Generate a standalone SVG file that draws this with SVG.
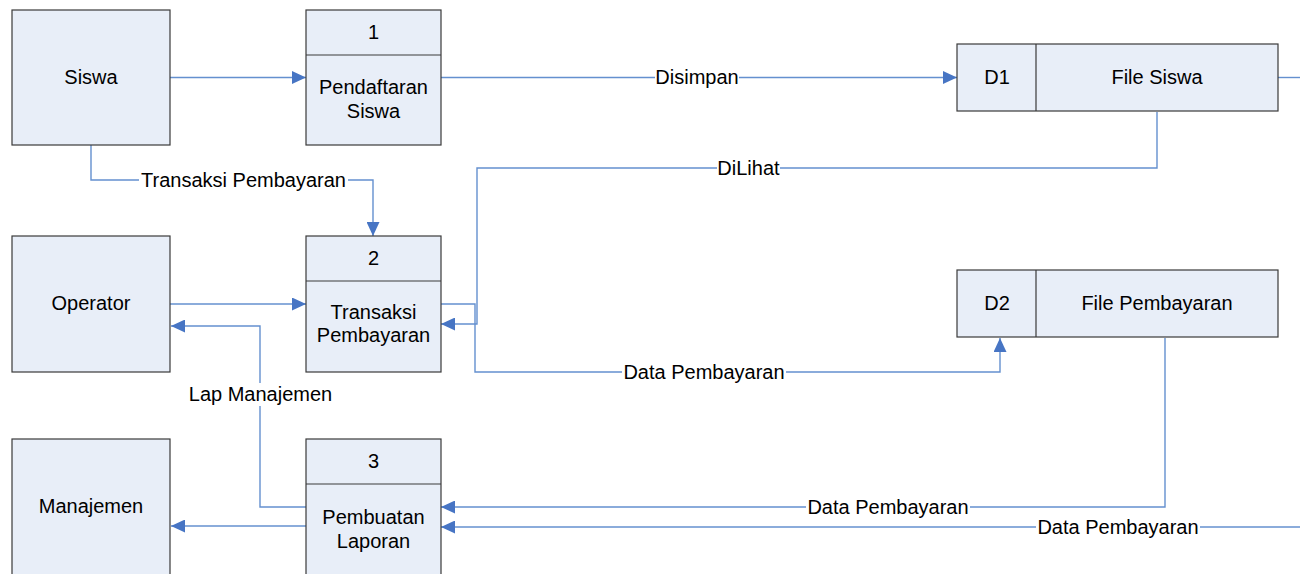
<svg xmlns="http://www.w3.org/2000/svg" width="1300" height="574" viewBox="0 0 1300 574">
  <defs>
    <marker id="arrow" viewBox="0 0 14 13" refX="14" refY="6.5" markerWidth="14" markerHeight="13" markerUnits="userSpaceOnUse" orient="auto">
      <path d="M0,0 L14,6.5 L0,13 Z" fill="#4775C4"/>
    </marker>
    <style>
      .box { fill: #E8EEF8; stroke: #3A3A3A; stroke-width: 1.2; }
      .div { stroke: #3A3A3A; stroke-width: 1.2; fill: none; }
      .txt { font-family: "Liberation Sans", Arial, sans-serif; font-size: 20px; fill: #000; text-anchor: middle; }
      .flow { fill: none; stroke: #6490CF; stroke-width: 1.4; }
      .lblbg { fill: #FFFFFF; }
    </style>
  </defs>
  <rect width="1300" height="574" fill="#FFFFFF"/>

  <!-- connectors -->
  <g id="connectors">
    <path class="flow" d="M170,77.5 H306" marker-end="url(#arrow)"/>
    <path class="flow" d="M441,77.5 H957" marker-end="url(#arrow)"/>
    <path class="flow" d="M1278,77.5 H1300"/>
    <path class="flow" d="M91,145 V180 H373 V236" marker-end="url(#arrow)"/>
    <path class="flow" d="M1157,112 V168 H477 V324 H441" marker-end="url(#arrow)"/>
    <path class="flow" d="M170,304 H306" marker-end="url(#arrow)"/>
    <path class="flow" d="M441,304 H475 V372 H1000 V338" marker-end="url(#arrow)"/>
    <path class="flow" d="M306,507 H260 V326 H171" marker-end="url(#arrow)"/>
    <path class="flow" d="M306,526 H171" marker-end="url(#arrow)"/>
    <path class="flow" d="M1165,338 V507 H441" marker-end="url(#arrow)"/>
    <path class="flow" d="M1300,527 H441" marker-end="url(#arrow)"/>

    <rect class="lblbg" x="139" y="170" width="209" height="21"/>
    <text class="txt" x="243.5" y="187">Transaksi Pembayaran</text>
    <rect class="lblbg" x="655" y="67" width="84" height="21"/>
    <text class="txt" x="697" y="84">Disimpan</text>
    <rect class="lblbg" x="717" y="158" width="63" height="21"/>
    <text class="txt" x="748.5" y="175">DiLihat</text>
    <rect class="lblbg" x="622" y="362" width="164" height="21"/>
    <text class="txt" x="704" y="379">Data Pembayaran</text>
    <rect class="lblbg" x="187" y="383" width="147" height="23"/>
    <text class="txt" x="260.5" y="401">Lap Manajemen</text>
    <rect class="lblbg" x="806" y="497" width="164" height="21"/>
    <text class="txt" x="888" y="514">Data Pembayaran</text>
    <rect class="lblbg" x="1036" y="517" width="164" height="21"/>
    <text class="txt" x="1118" y="534">Data Pembayaran</text>
  </g>

  <!-- external entities -->
  <g id="siswa">
    <rect class="box" x="12" y="10" width="158" height="135"/>
    <text class="txt" x="91" y="84">Siswa</text>
  </g>
  <g id="operator">
    <rect class="box" x="12" y="236" width="158" height="136"/>
    <text class="txt" x="91" y="310">Operator</text>
  </g>
  <g id="manajemen">
    <rect class="box" x="12" y="439" width="158" height="145"/>
    <text class="txt" x="91" y="513">Manajemen</text>
  </g>

  <!-- processes -->
  <g id="proses-1">
    <rect class="box" x="306" y="10" width="135" height="135"/>
    <path class="div" d="M306,55 H441"/>
    <text class="txt" x="373.5" y="39">1</text>
    <text class="txt" x="373.5" y="94">Pendaftaran</text>
    <text class="txt" x="373.5" y="118">Siswa</text>
  </g>
  <g id="proses-2">
    <rect class="box" x="306" y="236" width="135" height="136"/>
    <path class="div" d="M306,281 H441"/>
    <text class="txt" x="373.5" y="265">2</text>
    <text class="txt" x="373.5" y="319">Transaksi</text>
    <text class="txt" x="373.5" y="342">Pembayaran</text>
  </g>
  <g id="proses-3">
    <rect class="box" x="306" y="439" width="135" height="145"/>
    <path class="div" d="M306,484 H441"/>
    <text class="txt" x="373.5" y="468">3</text>
    <text class="txt" x="373.5" y="524">Pembuatan</text>
    <text class="txt" x="373.5" y="548">Laporan</text>
  </g>

  <!-- data stores -->
  <g id="d1-file-siswa">
    <rect class="box" x="957" y="44" width="321" height="67"/>
    <path class="div" d="M1036,44 V111"/>
    <text class="txt" x="997" y="84">D1</text>
    <text class="txt" x="1157" y="84">File Siswa</text>
  </g>
  <g id="d2-file-pembayaran">
    <rect class="box" x="957" y="270" width="321" height="67"/>
    <path class="div" d="M1036,270 V337"/>
    <text class="txt" x="997" y="310">D2</text>
    <text class="txt" x="1157" y="310">File Pembayaran</text>
  </g>
</svg>
